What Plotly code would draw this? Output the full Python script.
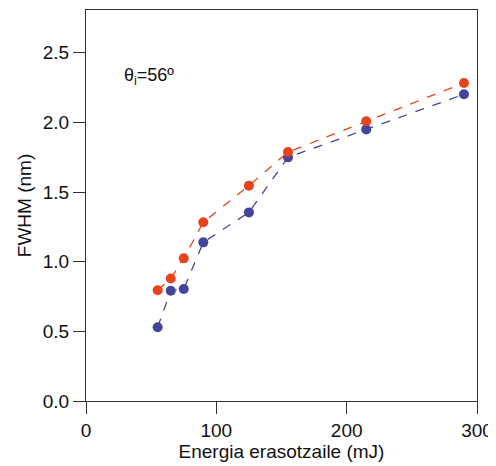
import plotly.graph_objects as go

energy = [55, 65, 75, 90, 125, 155, 215, 290]
fwhm_red = [0.795, 0.88, 1.024, 1.283, 1.546, 1.787, 2.008, 2.283]
fwhm_blue = [0.529, 0.792, 0.804, 1.139, 1.354, 1.749, 1.950, 2.202]
x_ticks = [0, 100, 200, 300]
y_ticks = [0.0, 0.5, 1.0, 1.5, 2.0, 2.5]
y_tick_labels = ["0.0", "0.5", "1.0", "1.5", "2.0", "2.5"]

RED = "#E8441C"
BLUE = "#43449C"
FONT = "Liberation Sans, Arial, sans-serif"

fig = go.Figure()
fig.add_trace(go.Scatter(x=energy, y=fwhm_blue, mode="lines+markers",
                         line=dict(color=BLUE, width=1.3, dash="dash"),
                         marker=dict(color=BLUE, size=10), showlegend=False))
fig.add_trace(go.Scatter(x=energy, y=fwhm_red, mode="lines+markers",
                         line=dict(color=RED, width=1.3, dash="dash"),
                         marker=dict(color=RED, size=10), showlegend=False))

axis_common = dict(showline=True, linecolor="#333333", linewidth=1.2, mirror=True,
                   showgrid=False, zeroline=False, ticks="outside", ticklen=12,
                   tickwidth=1.2, tickcolor="#333333",
                   tickfont=dict(family=FONT, size=19, color="#111111"))

fig.update_xaxes(range=[0, 300], tickvals=x_ticks,
                 title=dict(text="Energia erasotzaile (mJ)", font=dict(family=FONT, size=19, color="#111111"), standoff=4),
                 **axis_common)
fig.update_yaxes(range=[0, 2.807], tickvals=y_ticks, ticktext=y_tick_labels,
                 title=dict(text="FWHM (nm)", font=dict(family=FONT, size=19, color="#111111"), standoff=6),
                 **axis_common)

fig.add_annotation(xref="x", yref="y", x=28, y=2.33, xanchor="left", yanchor="middle",
                   text="θ<sub>i</sub>=56º", showarrow=False,
                   font=dict(family=FONT, size=18, color="#111111"))

fig.update_layout(width=496, height=466, margin=dict(l=78, r=27, t=2, b=73),
                  plot_bgcolor="white", paper_bgcolor="white")
fig.write_html("out.html")
